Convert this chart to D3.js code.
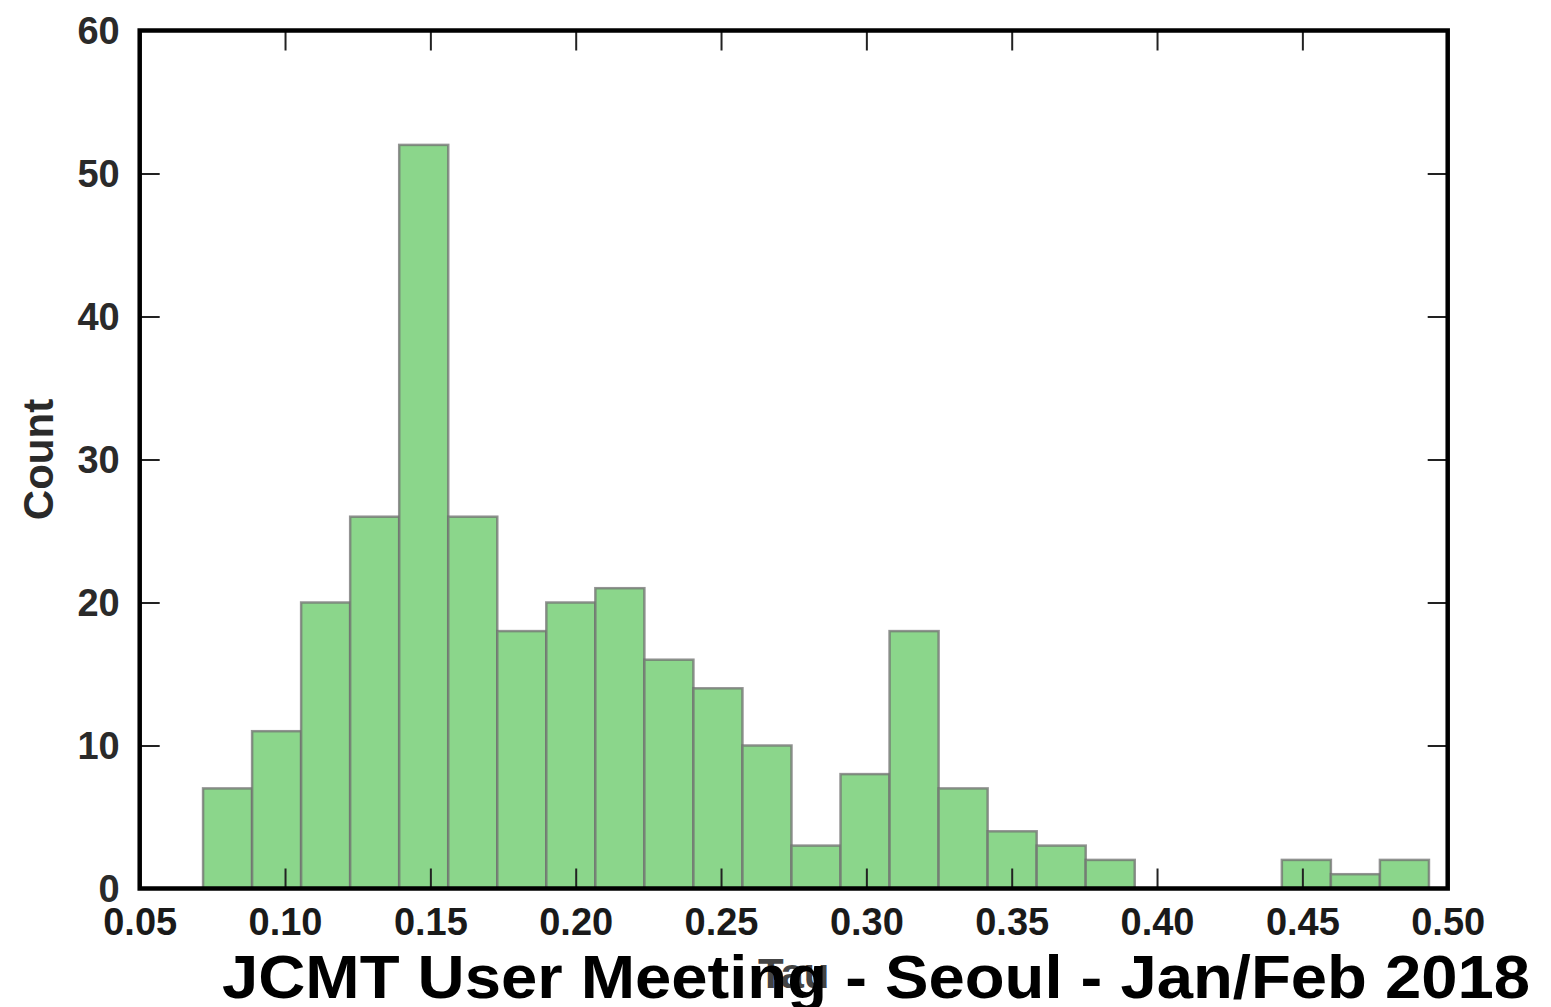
<!DOCTYPE html>
<html>
<head>
<meta charset="utf-8">
<script src="https://cdn.jsdelivr.net/npm/d3@7"></script>
<style>
  html, body { margin: 0; padding: 0; background: #fff; }
  svg { display: block; font-family: "Liberation Sans", Arial, Helvetica, sans-serif; }
</style>
</head>
<body>
<svg id="chart" width="1551" height="1007"></svg>
<script>
// Histogram of Tau: 25 equal bins
const binStart = 0.0718;
const binWidth = 0.01687;
const counts = [7, 11, 20, 26, 52, 26, 18, 20, 21, 16, 14, 10, 3, 8, 18, 7, 4, 3, 2, 0, 0, 0, 2, 1, 2];
const xTicks = [0.05, 0.10, 0.15, 0.20, 0.25, 0.30, 0.35, 0.40, 0.45, 0.50];
const yTicks = [0, 10, 20, 30, 40, 50, 60];
const xLabel = "Tau";
const yLabel = "Count";
const title = "JCMT User Meeting - Seoul - Jan/Feb 2018";

const bins = counts.map((c, i) => ({ x0: binStart + i * binWidth, x1: binStart + (i + 1) * binWidth, count: c }));

const margin = { left: 139.7, right: 1551 - 1447.7, top: 30.5, bottom: 1007 - 888.5 };
const W = 1551, H = 1007;
const svg = d3.select("#chart");

const x = d3.scaleLinear().domain([0.05, 0.50]).range([margin.left, W - margin.right]);
const y = d3.scaleLinear().domain([0, 60]).range([H - margin.bottom, margin.top]);

// bars
svg.append("g").selectAll("rect").data(bins.filter(d => d.count > 0)).join("rect")
  .attr("x", d => x(d.x0))
  .attr("y", d => y(d.count))
  .attr("width", d => x(d.x1) - x(d.x0))
  .attr("height", d => y(0) - y(d.count))
  .attr("fill", "#8bd68b")
  .attr("stroke", "#707070")
  .attr("stroke-opacity", 0.75)
  .attr("stroke-width", 2.5);

const tickLen = 20;
const fmtX = d3.format(".2f");

// inward ticks on all four sides
const bottomAxis = d3.axisBottom(x).tickValues(xTicks).tickSize(-tickLen).tickFormat(fmtX).tickPadding(0);
const topAxis = d3.axisTop(x).tickValues(xTicks).tickSize(-tickLen).tickFormat("");
const leftAxis = d3.axisLeft(y).tickValues(yTicks).tickSize(-tickLen).tickFormat(d3.format("d"));
const rightAxis = d3.axisRight(y).tickValues(yTicks).tickSize(-tickLen).tickFormat("");

function styleAxis(g) {
  g.select(".domain").remove();
  g.selectAll(".tick line").attr("stroke", "#222").attr("stroke-width", 2);
}

const gb = svg.append("g").attr("transform", `translate(0,${y(0)})`).call(bottomAxis).call(styleAxis);
gb.selectAll(".tick text")
  .attr("y", 20).attr("dy", "0.71em")
  .attr("font-size", 38).attr("font-weight", "bold").attr("fill", "#1a1a1a")
  .attr("font-family", "Liberation Sans, Arial, sans-serif");

svg.append("g").attr("transform", `translate(0,${y(60)})`).call(topAxis).call(styleAxis);

const gl = svg.append("g").attr("transform", `translate(${x(0.05)},0)`).call(leftAxis).call(styleAxis);
gl.selectAll(".tick text")
  .attr("x", -20).attr("dy", "0.35em")
  .attr("font-size", 38).attr("font-weight", "bold").attr("fill", "#2a2a2a")
  .attr("font-family", "Liberation Sans, Arial, sans-serif");

svg.append("g").attr("transform", `translate(${x(0.50)},0)`).call(rightAxis).call(styleAxis);

// frame
svg.append("rect")
  .attr("x", x(0.05)).attr("y", y(60))
  .attr("width", x(0.50) - x(0.05)).attr("height", y(0) - y(60))
  .attr("fill", "none").attr("stroke", "#000").attr("stroke-width", 4.5);

// axis labels
svg.append("text")
  .attr("transform", `translate(53,${(y(0) + y(60)) / 2}) rotate(-90)`)
  .attr("text-anchor", "middle")
  .attr("font-size", 42).attr("font-weight", "bold").attr("fill", "#2a2a2a")
  .text(yLabel);

svg.append("text")
  .attr("x", (x(0.05) + x(0.50)) / 2).attr("y", 988)
  .attr("text-anchor", "middle")
  .attr("font-size", 42).attr("font-weight", "bold").attr("fill", "#444")
  .text(xLabel);

// title overlaid along the bottom
svg.append("text")
  .attr("x", 222).attr("y", 998)
  .attr("font-size", 61).attr("font-weight", "bold").attr("fill", "#000")
  .attr("textLength", 1308).attr("lengthAdjust", "spacingAndGlyphs")
  .text(title);
</script>
</body>
</html>
